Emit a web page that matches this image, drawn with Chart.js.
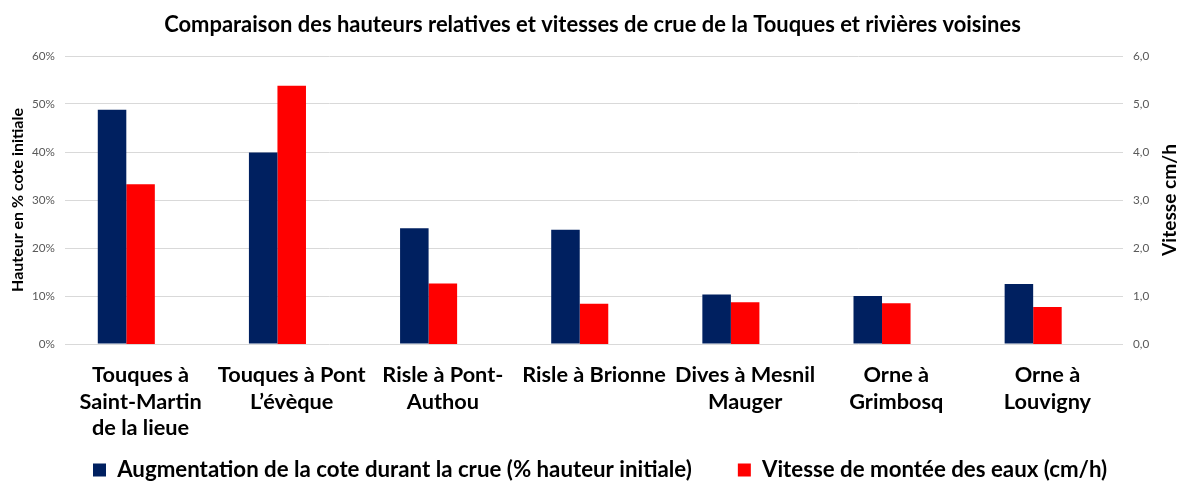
<!DOCTYPE html>
<html>
<head>
<meta charset="utf-8">
<script src="https://cdn.jsdelivr.net/npm/chart.js@4.4.1/dist/chart.umd.min.js"></script>
<style>
  html, body { margin: 0; padding: 0; background: #ffffff; }
  #wrap { width: 1185px; height: 482px; }
</style>
</head>
<body>
<div id="wrap"><canvas id="c" width="1185" height="482"></canvas></div>
<script>
// ---------- data ----------
const categories = [
  ["Touques à", "Saint-Martin", "de la lieue"],
  ["Touques à Pont", "L’évèque"],
  ["Risle à Pont-", "Authou"],
  ["Risle à Brionne"],
  ["Dives à Mesnil", "Mauger"],
  ["Orne à", "Grimbosq"],
  ["Orne à", "Louvigny"]
];
const hauteurPct = [48.8, 39.9, 24.1, 23.8, 10.3, 10.0, 12.5];
const vitesseCmH = [3.33, 5.38, 1.26, 0.84, 0.87, 0.85, 0.77];
const spacer = [null, null, null, null, null, null, null];
const seriesNames = [
  "Augmentation de la cote durant la crue (% hauteur initiale)",
  "Vitesse de montée des eaux (cm/h)"
];
const chartTitle = "Comparaison des hauteurs relatives et vitesses de crue de la Touques et rivières voisines";
const leftAxisTitle = "Hauteur en % cote initiale";
const rightAxisTitle = "Vitesse cm/h";
const leftTicks = [0, 10, 20, 30, 40, 50, 60];
const rightTicks = [0, 1, 2, 3, 4, 5, 6];

// ---------- fonts ----------
const FAM = "Lato, 'Open Sans', sans-serif";
const mctx = document.createElement('canvas').getContext('2d');
function fitSize(text, weight, target) {
  mctx.font = weight + ' 100px ' + FAM;
  return 100 * target / mctx.measureText(text).width;
}
const titleSize = fitSize(chartTitle, 'bold', 857);
const xLabSize = fitSize("Touques à Pont", 'bold', 148);
const legSize = fitSize(seriesNames[0], 'bold', 575);
const leftTitleSize = fitSize(leftAxisTitle, 'bold', 184);
const rightTitleSize = fitSize(rightAxisTitle, 'bold', 112);
const tickSize = fitSize("60%", 'normal', 23);

// ---------- layout targets ----------
const PLOT_LEFT = 65, PLOT_RIGHT = 1123, PLOT_TOP = 56, PLOT_BOTTOM = 344;
const W = 1185, H = 482;
const LEG_H = 40;
const X_LINE = 26.5;

const legendPlace = {
  id: 'legendPlace',
  afterLayout(chart) {
    const lg = chart.legend;
    if (!lg || !lg.lineWidths) return;
    const p = lg.options.labels.padding;
    const startX = (lg.left + p + lg.right - lg.lineWidths[0]) / 2;
    const dx = 93 - startX;
    const curCenter = lg.top + p + legSize / 2;
    const dy = 470 - curCenter;
    lg.left += dx; lg.right += dx;
    lg.top += dy; lg.bottom = H + 20;
  }
};

const rightTitle = {
  id: 'rightTitle',
  afterDraw(chart) {
    const ctx = chart.ctx;
    ctx.save();
    ctx.translate(1170, (PLOT_TOP + PLOT_BOTTOM) / 2);
    ctx.rotate(-Math.PI / 2);
    ctx.font = 'bold ' + rightTitleSize + 'px ' + FAM;
    ctx.fillStyle = '#000000';
    ctx.textAlign = 'center';
    ctx.textBaseline = 'middle';
    ctx.fillText(rightAxisTitle, 0, 0);
    ctx.restore();
  }
};

const tLine = titleSize * 1.2;

new Chart(document.getElementById('c'), {
  type: 'bar',
  data: {
    labels: categories,
    datasets: [
      { label: seriesNames[0], data: hauteurPct, backgroundColor: '#002060', yAxisID: 'y', borderWidth: 0 },
      { label: seriesNames[1], data: vitesseCmH, backgroundColor: '#FF0000', yAxisID: 'y1', borderWidth: 0 },
      { label: '', data: spacer, backgroundColor: 'rgba(0,0,0,0)', yAxisID: 'y', borderWidth: 0 }
    ]
  },
  options: {
    responsive: false,
    animation: false,
    devicePixelRatio: 1,
    categoryPercentage: 85.5 / 151,
    barPercentage: 1,
    layout: { padding: 0 },
    plugins: {
      title: {
        display: true,
        text: chartTitle,
        color: '#000000',
        font: { family: FAM, size: titleSize, weight: 'bold', lineHeight: 1.2 },
        padding: { top: 25 - tLine / 2, bottom: PLOT_TOP - 25 - tLine / 2 }
      },
      legend: {
        display: true,
        position: 'bottom',
        maxHeight: LEG_H,
        filter: (item) => item.text !== '',
        labels: {
          color: '#000000',
          boxWidth: 13,
          boxHeight: 13,
          padding: 46,
          font: { family: FAM, size: legSize, weight: 'bold' }
        }
      },
      tooltip: { enabled: false }
    },
    scales: {
      x: {
        grid: { display: false, drawTicks: false },
        border: { display: false },
        ticks: {
          autoSkip: false,
          maxRotation: 0,
          minRotation: 0,
          padding: 31 - X_LINE / 2,
          color: '#000000',
          font: { family: FAM, size: xLabSize, weight: 'bold', lineHeight: X_LINE / xLabSize }
        },
        afterFit(scale) { scale.height = H - LEG_H - PLOT_BOTTOM; }
      },
      y: {
        position: 'left',
        min: 0, max: 60,
        afterBuildTicks(scale) { scale.ticks = leftTicks.map(v => ({ value: v })); },
        grid: { color: '#d9d9d9', lineWidth: 1, drawTicks: false },
        border: { display: false },
        ticks: {
          padding: 10,
          color: '#595959',
          font: { family: FAM, size: tickSize },
          callback: (v) => v + '%'
        },
        title: {
          display: true,
          text: leftAxisTitle,
          color: '#000000',
          font: { family: FAM, size: leftTitleSize, weight: 'bold', lineHeight: 1.2 },
          padding: 18 - leftTitleSize * 0.6
        },
        afterFit(scale) { scale.width = PLOT_LEFT; }
      },
      y1: {
        position: 'right',
        min: 0, max: 6,
        afterBuildTicks(scale) { scale.ticks = rightTicks.map(v => ({ value: v })); },
        grid: { display: false, drawTicks: false },
        border: { display: false },
        ticks: {
          padding: 10,
          color: '#595959',
          font: { family: FAM, size: tickSize },
          callback: (v) => v.toFixed(1).replace('.', ',')
        },
        afterFit(scale) { scale.width = W - PLOT_RIGHT; }
      }
    }
  },
  plugins: [legendPlace, rightTitle]
});
</script>
</body>
</html>
